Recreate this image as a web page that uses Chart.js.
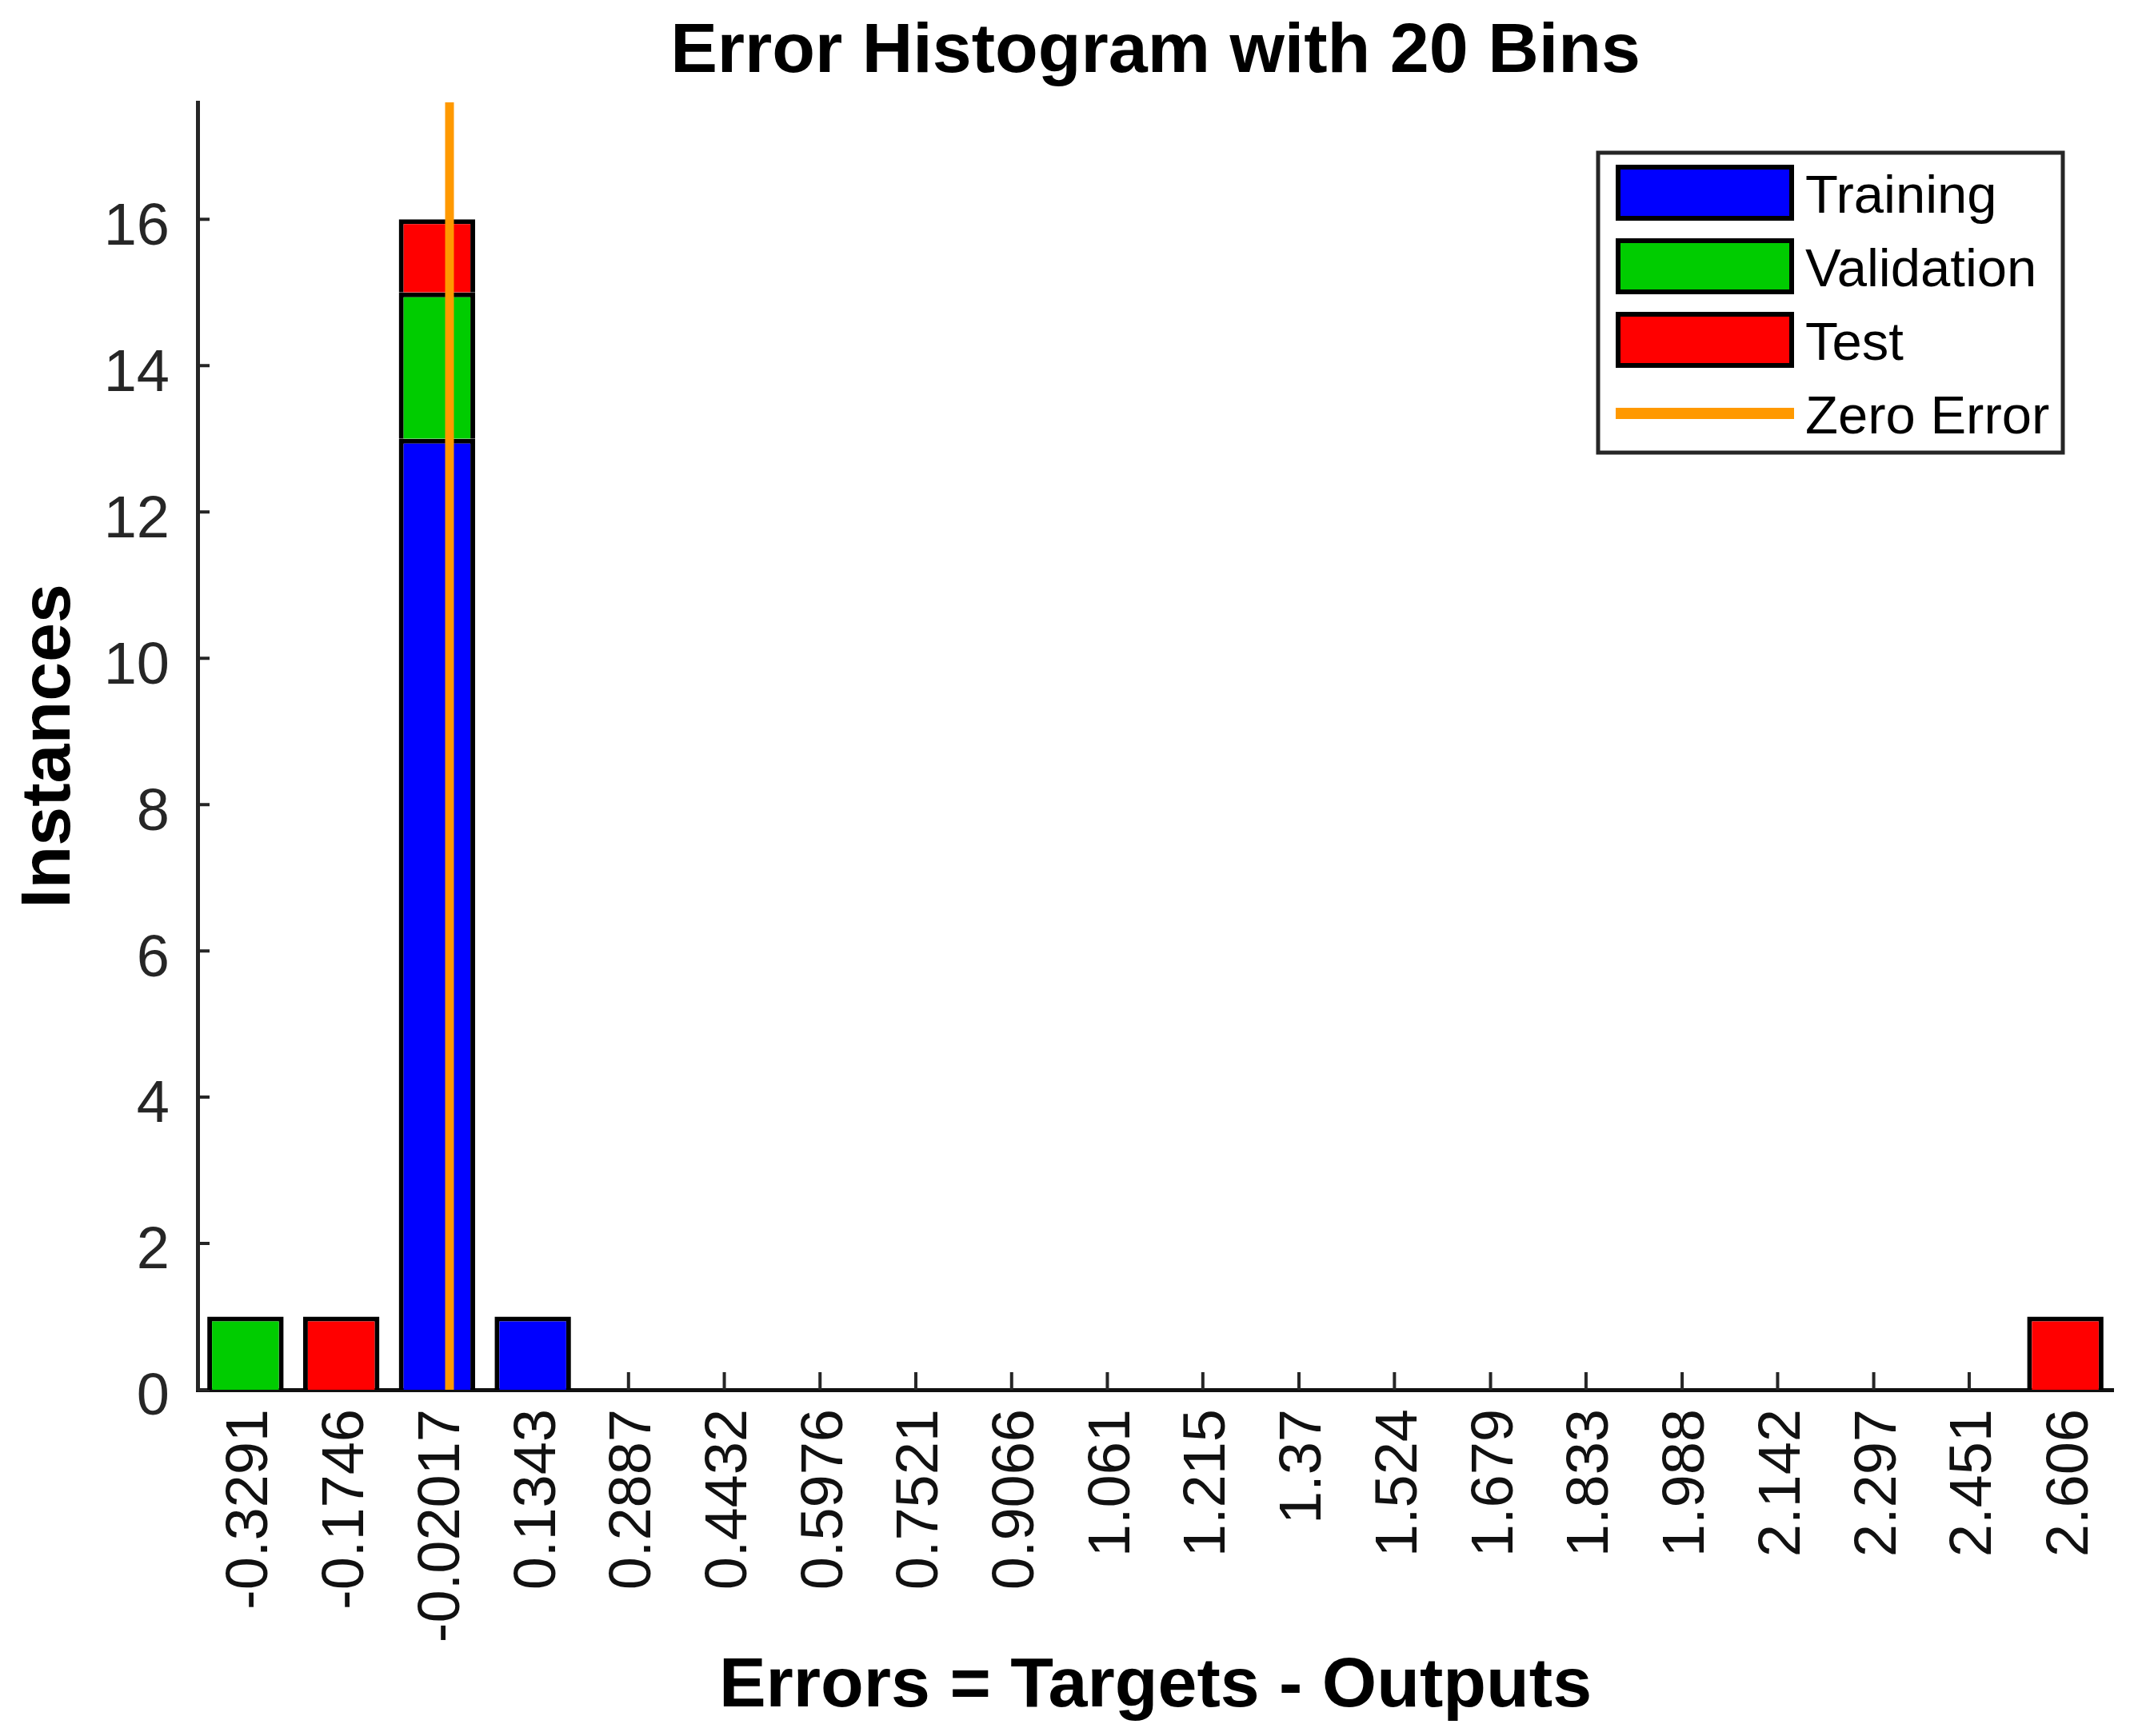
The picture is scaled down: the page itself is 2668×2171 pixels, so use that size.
<!DOCTYPE html>
<html lang="en">
<head>
<meta charset="utf-8">
<title>Error Histogram with 20 Bins</title>
<script src="https://cdn.jsdelivr.net/npm/chart.js"></script>
<style>
  html, body { margin: 0; padding: 0; background: #fff; }
  #wrap { width: 2668px; height: 2171px; position: relative; }
</style>
</head>
<body>
<div id="wrap"><canvas id="hist"></canvas></div>
<script>
// bin centres, as printed under the x axis
const binLabels = ['-0.3291', '-0.1746', '-0.02017', '0.1343', '0.2887', '0.4432', '0.5976',
    '0.7521', '0.9066', '1.061', '1.215', '1.37', '1.524', '1.679', '1.833', '1.988',
    '2.142', '2.297', '2.451', '2.606'];
const binCenters = binLabels.map(Number);

// instances per bin
const trainingCounts   = [0, 0, 13, 1, 0, 0, 0, 0, 0, 0, 0, 0, 0, 0, 0, 0, 0, 0, 0, 0];
const validationCounts = [1, 0, 2, 0, 0, 0, 0, 0, 0, 0, 0, 0, 0, 0, 0, 0, 0, 0, 0, 0];
const testCounts       = [0, 1, 1, 0, 0, 0, 0, 0, 0, 0, 0, 0, 0, 0, 0, 0, 0, 0, 0, 1];

const yTicks = [0, 2, 4, 6, 8, 10, 12, 14, 16];
const yMax = 17.6;
const zeroErrorX = 0;

const axisColor = '#262626';
const fontFamily = '"Liberation Sans", Arial, Helvetica, sans-serif';
Chart.defaults.font.family = fontFamily;

const binWidth = (binCenters[binCenters.length - 1] - binCenters[0]) / (binCenters.length - 1);

function toPoints(counts) {
    return counts.map((v, i) => ({ x: binCenters[i], y: v }));
}

// MATLAB style tick marks pointing into the plot
const innerTicks = {
    id: 'innerTicks',
    beforeDatasetsDraw(chart) {
        const { ctx, chartArea, scales } = chart;
        ctx.save();
        ctx.strokeStyle = axisColor;
        ctx.lineWidth = 4;
        ctx.beginPath();
        scales.x.ticks.forEach(t => {
            const px = scales.x.getPixelForValue(t.value);
            ctx.moveTo(px, chartArea.bottom);
            ctx.lineTo(px, chartArea.bottom - 22);
        });
        scales.y.ticks.forEach(t => {
            const py = scales.y.getPixelForValue(t.value);
            ctx.moveTo(chartArea.left, py);
            ctx.lineTo(chartArea.left + 15, py);
        });
        ctx.stroke();
        ctx.restore();
    }
};

// boxed legend in the upper right corner of the axes
const legendBox = {
    id: 'legendBox',
    afterDraw(chart) {
        const { ctx, chartArea } = chart;
        const w = 581, h = 375;
        const left = chartArea.right - 644;
        const top = chartArea.top + 63;
        ctx.save();
        ctx.fillStyle = '#fff';
        ctx.fillRect(left, top, w, h);
        ctx.lineWidth = 5;
        ctx.strokeStyle = axisColor;
        ctx.strokeRect(left, top, w, h);
        ctx.font = '67px ' + fontFamily;
        ctx.textBaseline = 'middle';
        chart.data.datasets.forEach((ds, i) => {
            const cy = top + 50 + i * 92;
            const sx = left + 22, sw = 223;
            if (ds.type === 'line') {
                ctx.strokeStyle = ds.borderColor;
                ctx.lineWidth = 14;
                ctx.beginPath();
                ctx.moveTo(sx, cy);
                ctx.lineTo(sx + sw, cy);
                ctx.stroke();
            } else {
                ctx.fillStyle = '#000';
                ctx.fillRect(sx, cy - 35, sw, 70);
                ctx.fillStyle = ds.backgroundColor;
                ctx.fillRect(sx + 6, cy - 29, sw - 12, 58);
            }
            ctx.fillStyle = '#000';
            ctx.fillText(ds.label, left + 259, cy + 7);
        });
        ctx.restore();
    }
};

const barStyle = {
    xAxisID: 'x',
    borderColor: '#000',
    borderWidth: 6,
    barPercentage: 0.8,
    categoryPercentage: 1.0,
    order: 1
};

const titleFont = { size: 88, weight: 'bold' };

new Chart(document.getElementById('hist'), {
    type: 'bar',
    data: {
        datasets: [
            { label: 'Training', data: toPoints(trainingCounts), backgroundColor: '#0000ff', ...barStyle },
            { label: 'Validation', data: toPoints(validationCounts), backgroundColor: '#00cc00', ...barStyle },
            { label: 'Test', data: toPoints(testCounts), backgroundColor: '#ff0000', ...barStyle },
            {
                type: 'line',
                label: 'Zero Error',
                xAxisID: 'x',
                data: [{ x: zeroErrorX, y: 0 }, { x: zeroErrorX, y: yMax }],
                borderColor: '#ff9900',
                borderWidth: 11,
                pointRadius: 0,
                stack: 'zero',
                order: 0
            }
        ]
    },
    options: {
        responsive: true,
        maintainAspectRatio: false,
        animation: false,
        layout: { padding: { left: 0, right: 26, top: 0, bottom: 0 } },
        plugins: {
            legend: { display: false },
            tooltip: { enabled: false }
        },
        scales: {
            x: {
                type: 'linear',
                position: 'bottom',
                min: binCenters[0] - binWidth / 2,
                max: binCenters[binCenters.length - 1] + binWidth / 2,
                offset: false,
                stacked: true,
                grid: { display: false, drawTicks: false, offset: false },
                border: { display: true, color: '#111', width: 5 },
                afterBuildTicks: scale => {
                    scale.ticks = binCenters.map(v => ({ value: v }));
                },
                afterFit: scale => {
                    scale.height = 433;
                    scale.paddingLeft = 0;
                    scale.paddingRight = 0;
                },
                ticks: {
                    autoSkip: false,
                    minRotation: 90,
                    maxRotation: 90,
                    padding: 24,
                    labelOffset: 7,
                    color: '#111',
                    font: { size: 74 },
                    callback: (value, index) => binLabels[index]
                },
                title: {
                    display: true,
                    text: 'Errors = Targets - Outputs',
                    color: '#000',
                    font: titleFont,
                    padding: { top: 0, bottom: 8 }
                }
            },
            // empty top axis, only carries the plot title so it centres over the axes
            xTop: {
                type: 'linear',
                axis: 'x',
                position: 'top',
                grid: { display: false, drawTicks: false },
                border: { display: false },
                ticks: { display: false },
                afterFit: scale => {
                    scale.height = 128;
                    scale.paddingLeft = 0;
                    scale.paddingRight = 0;
                },
                title: {
                    display: true,
                    text: 'Error Histogram with 20 Bins',
                    color: '#000',
                    font: titleFont,
                    padding: { top: 13, bottom: 0 }
                }
            },
            y: {
                min: 0,
                max: yMax,
                stacked: true,
                grid: { display: false, drawTicks: false },
                border: { display: true, color: axisColor, width: 5 },
                afterBuildTicks: scale => {
                    scale.ticks = yTicks.map(v => ({ value: v }));
                },
                afterFit: scale => {
                    scale.width = 247;
                    scale.paddingTop = 0;
                    scale.paddingBottom = 0;
                },
                ticks: {
                    padding: 35,
                    labelOffset: 11,
                    color: axisColor,
                    font: { size: 74 }
                },
                title: {
                    display: true,
                    text: 'Instances',
                    color: '#000',
                    font: titleFont,
                    padding: { top: 10, bottom: 0 }
                }
            }
        }
    },
    plugins: [innerTicks, legendBox]
});
</script>
</body>
</html>
